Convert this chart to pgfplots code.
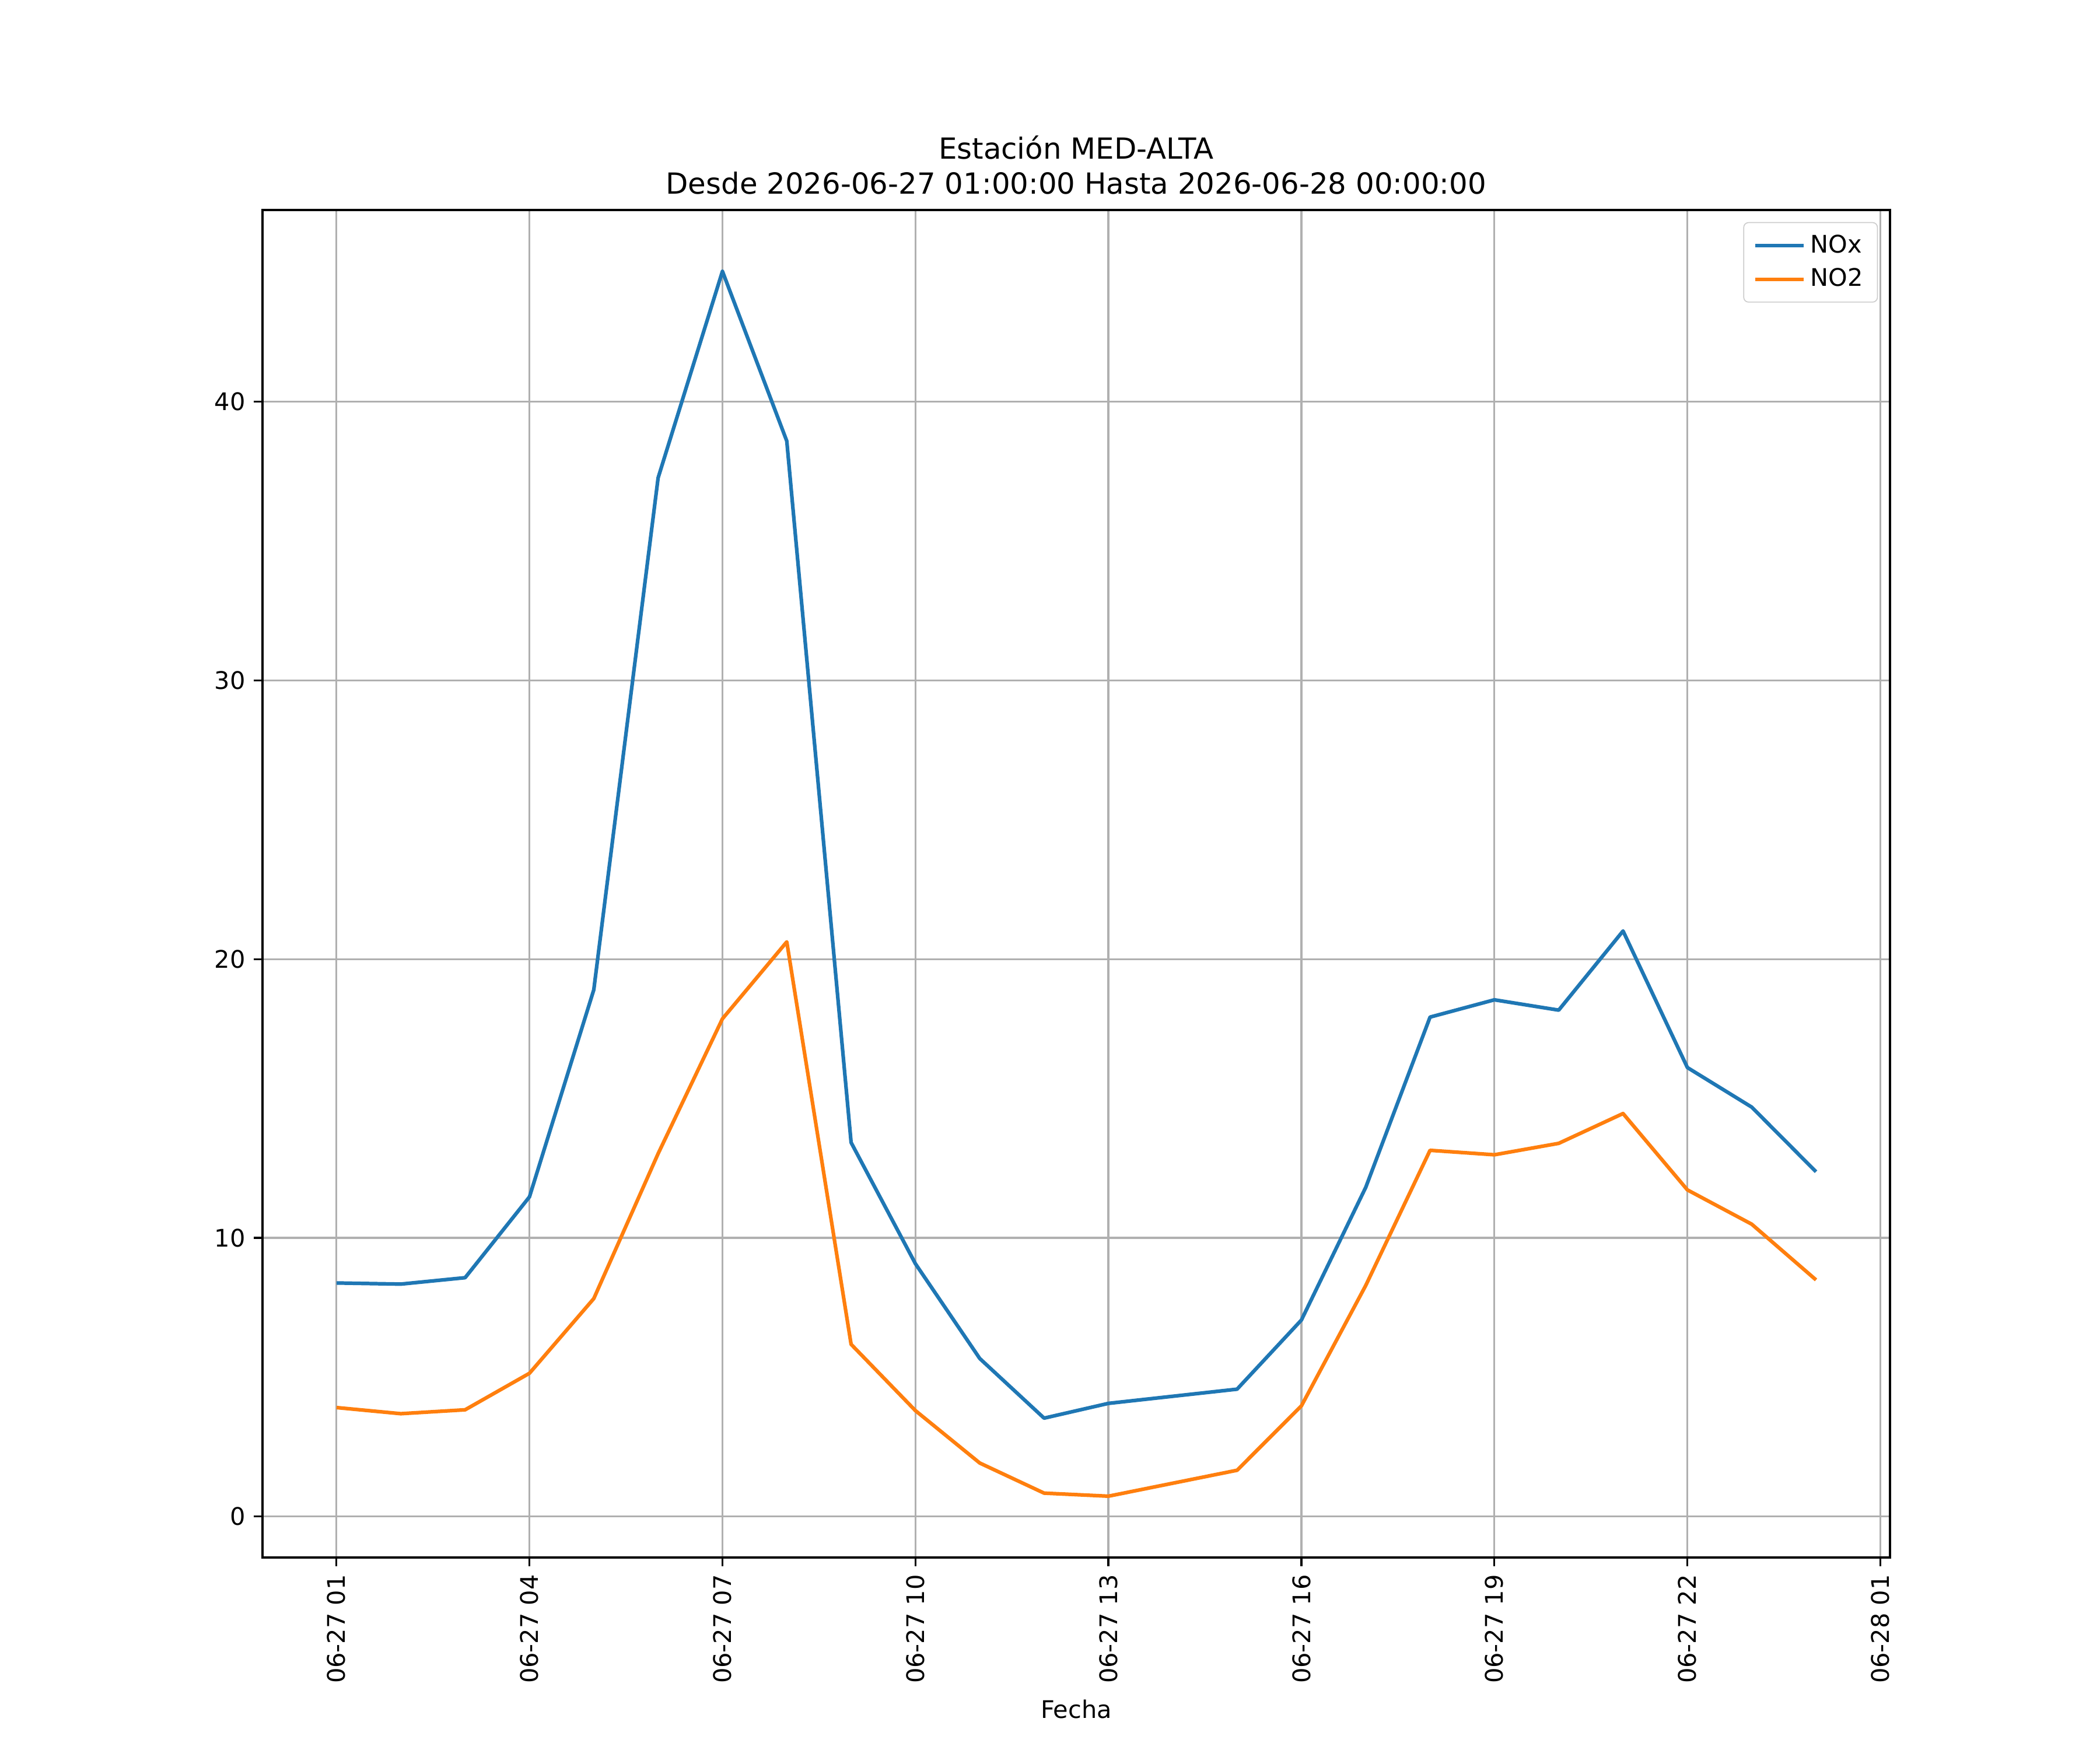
\documentclass[border=0pt]{standalone}
\usepackage{fontspec}
\setmainfont{DejaVu Sans}
\usepackage{pgfplots}
\pgfplotsset{compat=1.18}
\definecolor{mplblue}{HTML}{1F77B4}
\definecolor{mplorange}{HTML}{FF7F0E}
\definecolor{gridgray}{HTML}{B0B0B0}
\definecolor{leggray}{HTML}{CCCCCC}
\begin{document}
\begin{tikzpicture}
\begin{axis}[
  at={(0,0)}, anchor=south west,
  scale only axis,
  width=9.3in, height=7.7in,
  xmin=-0.15, xmax=25.15,
  ymin=-1.47, ymax=46.88,
  xtick={1,4,7,10,13,16,19,22,25},
  xticklabels={06-27 01,06-27 04,06-27 07,06-27 10,06-27 13,06-27 16,06-27 19,06-27 22,06-28 01},
  ytick={0,10,20,30,40},
  tick pos=left,
  tick align=outside,
  major tick length=3.5pt,
  every tick/.style={black, line width=0.8pt},
  axis line style={line width=0.8pt},
  grid=major,
  major grid style={gridgray, line width=0.8pt},
  tick label style={font=\fontsize{10}{12}\selectfont},
  xticklabel style={rotate=90, anchor=east},
  /pgf/number format/assume math mode=true,
  xlabel={Fecha},
  xlabel style={font=\fontsize{10}{12}\selectfont},
  title={Estación MED-ALTA\\Desde 2026-06-27 01:00:00 Hasta 2026-06-28 00:00:00},
  title style={align=center, font=\fontsize{12}{14.4}\selectfont, yshift=-3pt},
  legend style={at={(1,1)}, anchor=north east, xshift=-5pt, yshift=-5pt,
    draw=leggray, rounded corners=2pt, font=\fontsize{10}{12}\selectfont,
    row sep=1pt, inner xsep=4pt, inner ysep=3pt},
  legend cell align=left,
  legend image code/.code={\draw[#1] (0pt,0pt) -- (20pt,0pt);},
]
\addplot[mplblue, line width=1.5pt, line join=round] coordinates {
(1,8.38) (2,8.34) (3,8.57) (4,11.47) (5,18.90) (6,37.27) (7,44.68) (8,38.59)
(9,13.42) (10,9.07) (11,5.67) (12,3.53) (13,4.06) (15,4.57) (16,7.05)
(17,11.81) (18,17.92) (19,18.54) (20,18.17) (21,21.01) (22,16.11) (23,14.69) (24,12.37)
};
\addlegendentry{NOx}
\addplot[mplorange, line width=1.5pt, line join=round] coordinates {
(1,3.91) (2,3.69) (3,3.83) (4,5.14) (5,7.82) (6,13.02) (7,17.86) (8,20.62)
(9,6.18) (10,3.80) (11,1.92) (12,0.84) (13,0.73) (15,1.66) (16,3.97)
(17,8.29) (18,13.14) (19,12.98) (20,13.39) (21,14.46) (22,11.72) (23,10.49) (24,8.49)
};
\addlegendentry{NO2}
\end{axis}
\pgfresetboundingbox
\path[use as bounding box] (-1.5in,-1.1in) rectangle (10.5in,8.9in);
\end{tikzpicture}
\end{document}
